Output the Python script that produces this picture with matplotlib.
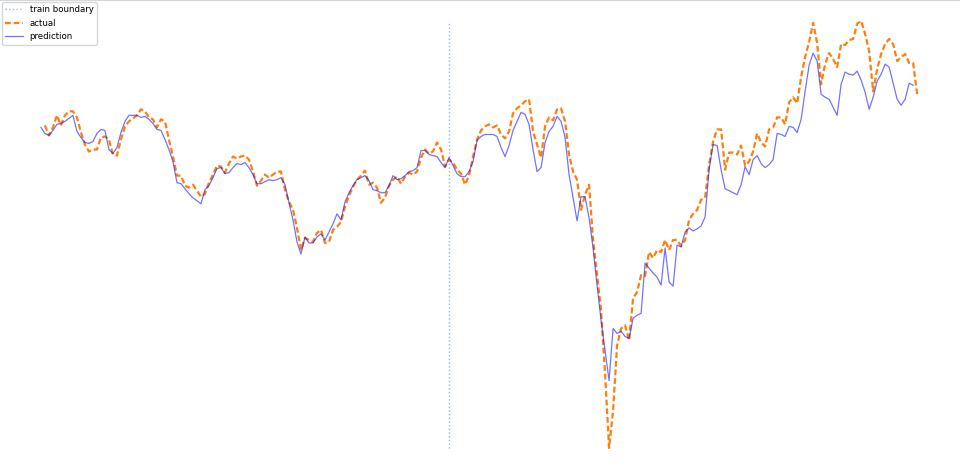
import numpy as np
import matplotlib
matplotlib.use("Agg")
import matplotlib.pyplot as plt
from matplotlib.lines import Line2D

prediction = [
    352, 346, 344, 349, 355, 356, 358, 361, 364, 348,
    342, 337, 336, 338, 346, 350, 349, 330, 326, 332,
    347, 358, 364, 364, 364, 362, 363, 360, 356, 350,
    349, 340, 330, 318, 297, 296, 291, 286, 282, 279,
    276, 290, 294, 302, 311, 312, 306, 307, 312, 316,
    315, 317, 312, 305, 296, 296, 298, 300, 299, 300,
    302, 295, 277, 260, 238, 226, 243, 237, 237, 243,
    246, 240, 248, 256, 266, 260, 278, 287, 294, 300,
    302, 304, 299, 290, 289, 287, 287, 294, 304, 300,
    301, 304, 308, 309, 312, 329, 329, 325, 324, 323,
    317, 312, 322, 314, 306, 303, 303, 308, 318, 339,
    343, 345, 345, 345, 343, 332, 323, 334, 349, 358,
    367, 365, 355, 330, 308, 312, 337, 348, 353, 363,
    358, 342, 305, 282, 259, 283, 283, 262, 232, 195,
    160, 130, 100, 152, 147, 149, 144, 142, 162, 165,
    167, 217, 212, 207, 203, 195, 232, 198, 194, 235,
    233, 248, 252, 249, 251, 254, 263, 310, 335, 334,
    310, 291, 289, 287, 285, 295, 313, 305, 320, 324,
    316, 312, 315, 320, 346, 345, 343, 353, 352, 347,
    360, 388, 414, 426, 418, 385, 382, 380, 372, 364,
    395, 407, 405, 404, 408, 399, 387, 370, 382, 398,
    405, 415, 412, 396, 380, 374, 380, 396, 394,
]

actual = [
    354, 344, 352, 364, 354, 364, 368, 368, 362, 347,
    335, 328, 330, 330, 342, 343, 340, 325, 324, 340,
    353, 358, 361, 364, 370, 368, 362, 360, 352, 360,
    358, 340, 323, 304, 304, 294, 292, 295, 289, 283,
    286, 297, 305, 314, 313, 307, 316, 323, 321, 323,
    324, 320, 308, 294, 299, 305, 302, 305, 308, 308,
    290, 278, 270, 252, 230, 242, 240, 238, 247, 250,
    237, 238, 250, 253, 258, 273, 284, 293, 300, 304,
    309, 295, 297, 292, 277, 282, 294, 300, 303, 296,
    303, 307, 305, 308, 322, 330, 326, 328, 337, 330,
    313, 320, 317, 310, 306, 295, 304, 323, 340, 349,
    353, 355, 352, 354, 345, 341, 348, 366, 371, 374,
    378, 380, 348, 335, 322, 353, 362, 359, 370, 371,
    358, 325, 308, 300, 270, 285, 295, 240, 205, 170,
    107, 33, 70, 135, 152, 155, 140, 182, 188, 205,
    204, 228, 222, 230, 228, 240, 230, 240, 240, 234,
    240, 260, 266, 270, 280, 282, 315, 338, 350, 350,
    310, 327, 327, 325, 334, 314, 318, 328, 346, 337,
    333, 350, 352, 362, 362, 355, 377, 382, 376, 402,
    422, 437, 456, 436, 395, 415, 426, 420, 412, 435,
    434, 439, 440, 455, 458, 445, 428, 388, 410, 425,
    435, 440, 435, 418, 422, 425, 416, 416, 385,
]

train_end = 102

x_pred = np.arange(len(prediction))
x_act = np.arange(1, len(actual) + 1)

fig = plt.figure(figsize=(9.6, 4.67), dpi=100)
ax = fig.add_axes([-0.003, -0.005, 1.004, 1.006])

ax.vlines(train_end, min(actual), max(actual), colors="#1f77b4", alpha=0.5,
          linestyles=":", linewidth=1, label="train boundary")
ax.plot(x_act, actual, color="#ff7f0e", linestyle="--", dashes=(2.6, 1.3),
        linewidth=1.6, label="actual")
ax.plot(x_pred, prediction, color="blue", alpha=0.55, linewidth=0.9, label="prediction")

ax.legend(loc="upper left", fontsize=6.2, borderaxespad=0,
          bbox_to_anchor=(2 / 960, 1 - 2 / 467), bbox_transform=fig.transFigure)
ax.axis("off")

# thin grey edge along the top of the image
fig.add_artist(Line2D([0, 1], [0.999, 0.999], transform=fig.transFigure,
                      color="#d6d6d6", linewidth=1.5))

fig.savefig("out.png", dpi=100)
